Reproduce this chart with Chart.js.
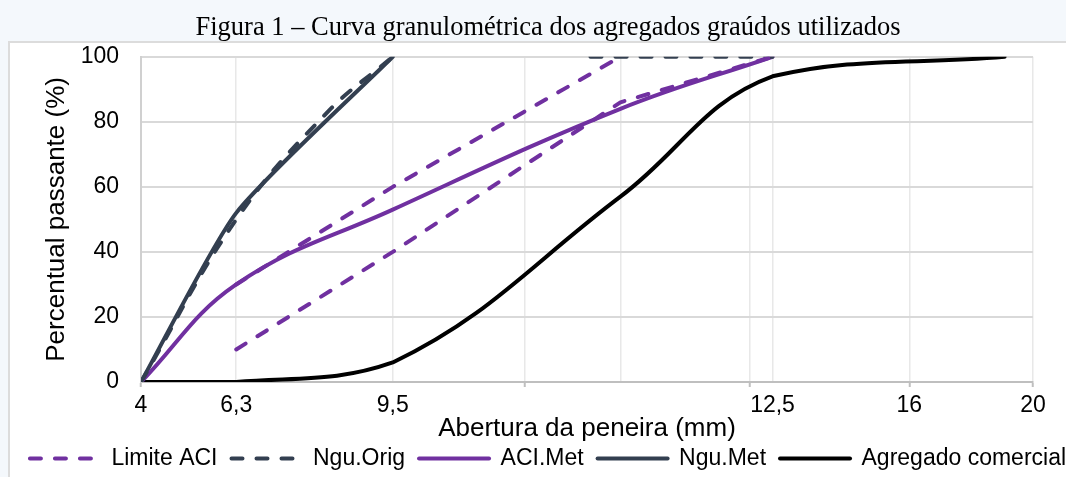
<!DOCTYPE html>
<html>
<head>
<meta charset="utf-8">
<script src="https://cdn.jsdelivr.net/npm/chart.js@4.4.1/dist/chart.umd.min.js"></script>
<style>
    html, body { margin: 0; padding: 0; width: 1066px; height: 477px; overflow: hidden; background: #f4f8fc; }
    #box { position: absolute; left: 8px; top: 41px; width: 1120px; height: 500px; background: #fff; border: 2px solid #dcdcdc; }
    #wrap { position: absolute; left: 0; top: 0; width: 1096px; height: 477px; }
</style>
</head>
<body>
<div id="box"></div>
<div id="wrap"><canvas id="chart"></canvas></div>
<script>
// sieve openings (mm) where grid lines sit, and the labels printed under them
const gridTicks = [4, 4.75, 6.3, 8, 9.5, 12, 12.5, 16, 20];
const tickLabels = { 4: '4', 4.75: '6,3', 6.3: '9,5', 12.5: '12,5', 16: '16', 20: '20' };
const markedTicks = [4, 8, 12, 16, 20];

// Limite ACI: upper and lower bound, drawn as one series with a break
const aciUpperX = [4.75, 6.3, 9.5];
const aciUpperY = [30, 60, 100];
const aciLowerX = [4.75, 6.3, 9.5, 12.5];
const aciLowerY = [10, 40, 86, 100];

const nguOrigX = [4, 4.75, 5.6, 6.3, 8, 9, 12.5];
const nguOrigY = [0, 50, 83, 100, null, 100, 100];

const aciMetX = [4, 4.75, 6.3, 9.5, 12.5];
const aciMetY = [0, 30, 53, 84, 100];

const nguMetX = [4, 4.75, 6.3];
const nguMetY = [0, 52, 100];

const comercialX = [4, 4.75, 6.3, 9.5, 12.5, 19];
const comercialY = [0, 0, 6, 57, 94, 100];

const PURPLE = '#7030a0', SLATE = '#333f50', BLACK = '#000000';
const DASH = [11, 14];

function points(xs, ys) {
    return xs.map((x, i) => ({ x, y: ys[i] }));
}

function series(label, data, color, dash, width, tension) {
    return {
        label, data, borderColor: color, backgroundColor: color, borderWidth: width,
        borderDash: dash, borderCapStyle: 'round', borderJoinStyle: 'round',
        pointRadius: 0, pointHoverRadius: 0, tension, fill: false, spanGaps: false
    };
}

// legend keys take dash and width from the line itself, not from its points
function legendLabels(chart) {
    return Chart.defaults.plugins.legend.labels.generateLabels(chart).map((item, i) => {
        const ds = chart.data.datasets[i];
        return Object.assign(item, {
            lineDash: ds.borderDash, lineWidth: ds.borderWidth,
            strokeStyle: ds.borderColor, fillStyle: ds.borderColor, lineCap: 'round'
        });
    });
}

const limiteAci = points(aciUpperX, aciUpperY)
    .concat([{ x: 9.5, y: null }])
    .concat(points(aciLowerX, aciLowerY));

const tickFont = { family: 'Liberation Sans, Arial, sans-serif', size: 23 };
const titleFont = { family: 'Liberation Sans, Arial, sans-serif', size: 26 };

new Chart(document.getElementById('chart'), {
    type: 'line',
    data: {
        datasets: [
            series('Limite ACI', limiteAci, PURPLE, DASH, 4, 0),
            series('Ngu.Orig', points(nguOrigX, nguOrigY), SLATE, DASH, 4, 0.4),
            series('ACI.Met', points(aciMetX, aciMetY), PURPLE, [], 4, 0.4),
            series('Ngu.Met', points(nguMetX, nguMetY), SLATE, [], 4, 0.2),
            series('Agregado comercial', points(comercialX, comercialY), BLACK, [], 4, 0.4)
        ]
    },
    options: {
        responsive: true,
        maintainAspectRatio: false,
        animation: false,
        layout: { padding: { left: 0, right: 0, top: 0, bottom: -3 } },
        plugins: {
            title: {
                display: true,
                text: 'Figura 1 – Curva granulométrica dos agregados graúdos utilizados',
                color: '#000',
                font: { family: 'Liberation Serif, Times New Roman, serif', size: 26.5, weight: 'normal' },
                padding: { top: 12, bottom: 13 }
            },
            legend: {
                position: 'bottom',
                labels: {
                    usePointStyle: true, pointStyle: 'line', pointStyleWidth: 70,
                    color: '#000', font: tickFont, padding: 14,
                    generateLabels: legendLabels
                }
            },
            tooltip: { enabled: false }
        },
        scales: {
            x: {
                type: 'logarithmic', min: 4, max: 20,
                afterBuildTicks: s => { s.ticks = gridTicks.map(v => ({ value: v })); },
                afterFit: s => { s.height = 51; },
                ticks: {
                    autoSkip: false, maxRotation: 0, padding: 5, color: '#000', font: tickFont,
                    callback: v => tickLabels[v] || ''
                },
                grid: {
                    color: '#e8e8e8', lineWidth: 1.5, tickLength: 5, tickWidth: 2,
                    tickColor: c => markedTicks.includes(c.tick && c.tick.value) ? '#bfbfbf' : 'rgba(0,0,0,0)'
                },
                border: { color: '#bfbfbf', width: 2 },
                title: { display: true, text: 'Abertura da peneira (mm)', color: '#000', font: titleFont, padding: { top: 0, bottom: -11 } }
            },
            y: {
                min: 0, max: 100,
                afterFit: s => { s.width = 141; },
                ticks: { stepSize: 20, padding: 22, color: '#000', font: tickFont },
                grid: { color: '#d9d9d9', lineWidth: 2, drawTicks: false },
                border: { color: '#d0d0d0', width: 2 },
                title: { display: true, text: 'Percentual passante (%)', color: '#000', font: titleFont, padding: { top: 41, bottom: 0 } }
            },
            // empty axis that only reserves the right margin of the plot
            spacer: {
                position: 'right', min: 0, max: 1,
                afterFit: s => { s.width = 63; },
                ticks: { display: false },
                grid: { drawOnChartArea: false, drawTicks: false },
                border: { display: false }
            }
        }
    }
});
</script>
</body>
</html>
